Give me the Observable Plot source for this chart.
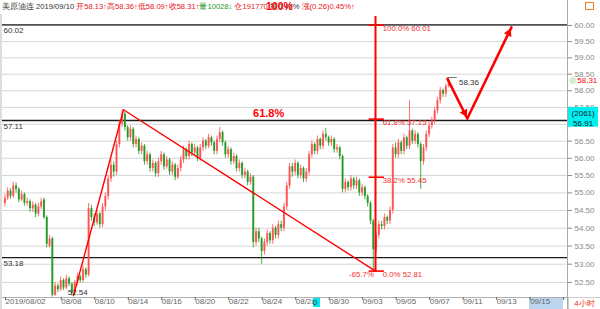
<!DOCTYPE html>
<html><head><meta charset="utf-8">
<script src="https://cdn.jsdelivr.net/npm/d3@7"></script>
<script src="https://cdn.jsdelivr.net/npm/@observablehq/plot@0.6"></script>
<style>
body{margin:0;background:#fff;}
#wrap{position:relative;width:600px;height:309px;overflow:hidden;font-family:"Liberation Sans",Arial,sans-serif;background:#fff;}
#hdr{position:relative;height:14px;font-size:7.6px;line-height:13px;white-space:nowrap;padding-left:2px;color:#333;}
.r{color:#e8141c}.g{color:#1a9a1a}
#big100{position:absolute;left:266px;top:0px;font-size:10.5px;font-weight:bold;color:#f00;line-height:13px;}
#vborder{position:absolute;left:567px;top:0;width:1px;height:309px;background:#aaa;}
#lborder{position:absolute;left:0;top:14px;width:2px;height:295px;background:#ddd;}
#icon{position:absolute;left:585px;top:2px;width:7px;height:6px;border:1px solid #f08020;}
#sel{position:absolute;left:529px;top:298px;width:34px;height:11px;background:#bcd6f2;}
#cur{position:absolute;left:313px;top:298px;width:7px;height:9px;background:#00e5f0;font-size:7.5px;line-height:9px;color:#333;}
#tf{position:absolute;left:568px;top:297px;width:31px;height:11px;border:1px solid #ccc;font-size:8px;line-height:11px;color:#f03010;text-align:center;}
#plot{position:absolute;left:0;top:14px;}
</style></head>
<body><div id="wrap">
<div id="sel"></div>
<div id="hdr">美原油连 2019/09/10 <span class="r">开58.13↑高58.36↑低58.09↑收58.31↑</span><span class="g">量10028↓</span> <span class="r">仓191770</span> 振0.47% <span class="r">涨(0.26)0.45%↑</span></div>
<div id="plot"></div>
<div id="big100">100%</div>
<div id="lborder"></div>
<div id="vborder"></div>
<div id="icon"></div>
<div id="cur">0</div>
<div id="tf">4小时</div>
</div>
<script>
// ---- data (4-hour bars, index 0..159) ----
const open = [
54.70,54.85,55.05,54.90,55.20,55.10,54.80,54.95,54.70,54.75,
54.55,54.65,54.40,54.60,54.80,54.30,53.50,53.70,52.15,52.40,
52.30,52.55,52.35,52.60,52.45,52.20,52.50,52.65,52.55,52.85,
52.70,54.55,54.30,54.15,54.40,54.10,54.60,54.90,55.40,55.80,
55.60,56.40,57.00,57.30,56.90,56.60,56.85,56.40,56.55,56.20,
56.35,55.90,56.10,55.70,55.85,55.55,55.90,56.10,55.75,55.95,
55.60,55.80,55.45,55.70,55.95,56.25,56.05,56.40,56.15,56.30,
56.00,56.30,56.50,56.35,56.60,56.45,56.20,56.55,56.75,56.45,
56.10,56.25,55.90,56.05,55.70,55.85,55.50,55.60,55.30,55.45,
53.60,53.90,53.70,53.35,53.60,53.85,53.65,54.00,53.80,54.10,
54.00,54.60,55.20,55.75,55.60,55.85,55.50,55.70,55.40,55.60,
56.10,56.40,56.20,56.55,56.35,56.70,56.60,56.45,56.55,56.25,
56.30,56.05,55.10,55.30,55.15,55.40,55.20,55.35,55.00,55.15,
54.90,54.70,54.20,53.40,53.80,54.10,54.05,54.30,54.20,54.50,
56.30,56.10,56.45,56.20,56.60,56.35,56.80,56.50,56.70,56.40,
55.90,56.30,56.70,56.95,57.10,57.40,57.70,58.00,57.90,58.13];
const high = [
54.95,55.15,55.12,55.30,55.28,55.15,55.05,55.00,54.85,54.80,
54.75,54.70,54.70,54.85,54.85,54.35,53.80,53.75,52.50,52.45,
52.65,52.60,52.70,52.65,52.50,52.55,52.75,52.70,52.95,52.90,
54.70,54.65,54.40,54.50,54.45,54.70,55.00,55.50,55.95,55.90,
56.50,57.10,57.43,57.35,56.95,56.95,56.90,56.65,56.60,56.45,
56.40,56.20,56.15,55.95,55.90,56.00,56.20,56.15,56.05,56.00,
55.90,55.85,55.80,56.05,56.35,56.30,56.50,56.45,56.40,56.35,
56.40,56.60,56.55,56.70,56.65,56.50,56.65,56.90,56.80,56.50,
56.35,56.30,56.15,56.10,55.95,55.90,55.70,55.65,55.55,55.50,
54.00,54.00,53.75,53.70,53.95,53.90,54.10,54.05,54.20,54.20,
54.70,55.30,55.85,55.85,55.95,55.90,55.80,55.75,55.70,56.20,
56.50,56.45,56.65,56.60,56.80,56.88,56.65,56.65,56.60,56.40,
56.35,56.10,55.40,55.35,55.50,55.45,55.45,55.40,55.25,55.20,
54.95,54.75,54.25,53.90,54.20,54.20,54.40,54.35,54.60,56.40,
56.45,56.55,56.50,56.70,56.65,57.70,56.85,56.80,56.75,56.45,
56.40,56.80,57.05,57.20,57.50,57.80,58.10,58.05,58.20,58.36];
const low = [
54.60,54.78,54.82,54.85,55.00,54.72,54.75,54.62,54.62,54.45,
54.45,54.30,54.32,54.52,54.25,53.45,53.45,52.10,52.12,52.22,
52.25,52.28,52.30,52.38,52.13,52.15,52.42,52.48,52.50,52.62,
52.65,54.20,54.05,54.08,54.00,54.02,54.50,54.80,55.30,55.45,
55.50,56.30,56.90,56.80,56.50,56.50,56.30,56.30,56.10,56.10,
55.80,55.80,55.60,55.60,55.45,55.45,55.80,55.65,55.68,55.50,
55.50,55.35,55.38,55.60,55.85,55.95,55.95,56.05,56.05,55.90,
55.92,56.20,56.25,56.28,56.35,56.10,56.10,56.45,56.35,56.00,
56.00,55.80,55.82,55.60,55.60,55.40,55.40,55.20,55.22,53.45,
53.50,53.60,53.00,53.25,53.50,53.55,53.55,53.70,53.70,53.90,
53.90,54.50,55.10,55.45,55.50,55.40,55.40,55.30,55.30,55.50,
56.00,56.10,56.10,56.25,56.25,56.50,56.35,56.35,56.15,56.15,
55.95,55.00,55.00,55.05,55.05,55.10,55.10,54.90,54.90,54.80,
54.60,54.10,52.81,53.30,53.70,53.95,53.95,54.10,54.10,54.40,
56.00,56.00,56.10,56.10,56.25,56.25,56.40,56.40,56.30,55.10,
55.80,56.20,56.60,56.85,57.00,57.30,57.60,57.80,57.80,58.09];
const close = [
54.85,55.05,54.90,55.20,55.10,54.80,54.95,54.70,54.75,54.55,
54.65,54.40,54.60,54.75,54.30,53.55,53.70,52.15,52.40,52.30,
52.55,52.35,52.60,52.45,52.20,52.50,52.65,52.55,52.85,52.70,
54.55,54.30,54.15,54.40,54.10,54.60,54.90,55.40,55.80,55.60,
56.40,57.00,57.30,56.90,56.60,56.85,56.40,56.55,56.20,56.35,
55.90,56.10,55.70,55.85,55.55,55.90,56.10,55.75,55.95,55.60,
55.80,55.45,55.70,55.95,56.25,56.05,56.40,56.15,56.30,56.00,
56.30,56.50,56.35,56.60,56.45,56.20,56.55,56.75,56.45,56.10,
56.25,55.90,56.05,55.70,55.85,55.50,55.60,55.30,55.45,53.60,
53.90,53.70,53.35,53.60,53.85,53.65,54.00,53.80,54.10,54.00,
54.60,55.20,55.75,55.60,55.85,55.50,55.70,55.40,55.60,56.10,
56.40,56.20,56.55,56.35,56.70,56.60,56.45,56.55,56.25,56.30,
56.05,55.10,55.30,55.15,55.40,55.20,55.35,55.00,55.15,54.90,
54.70,54.20,53.40,53.80,54.10,54.05,54.30,54.20,54.50,56.30,
56.10,56.45,56.20,56.60,56.35,56.80,56.50,56.70,56.40,55.90,
56.30,56.70,56.95,57.10,57.40,57.70,58.00,57.90,58.13,58.31];

const xTickSlots = [0,20,32,44,56,68,80,92,104,116,128,140,152,164,176,188,200];
const xTickLabels = ["2019/08/02","08/08","08/10","08/14","08/16","08/20","08/22","08/24","08/28","08/30","09/03","09/05","09/07","09/11","09/13","09/15",""];
const yTicks = [52.5,53,53.5,54,54.5,55,55.5,56,56.5,57,57.5,58,58.5,59,59.5,60];
const levelValues = [60.02, 57.11, 53.18];
const zigzagX = [25.1, 43.0, 133.3];
const zigzagY = [52.14, 57.43, 52.81];
const fibPct = ["100.0%","61.8%","38.2%","0.0%"];
const fibValues = [60.01, 57.15, 55.45, 52.81];
const fibSlot = 133.3;
const fibTop = 60.30;
const arrowX = [159.1, 166.2, 182.0];
const arrowY = [58.36, 57.17, 59.94];
const arrowHeadX = [165.2, 181.03];
const arrowHeadY = [57.34, 59.77];
const arrowHeadAngle = [153.5, 25.8];
const lastClose = 58.31, cursorPrice = 56.91, cursorVol = "(2061)";

// ---- build tables ----
const bars = close.map((c, i) => ({x: i + 0.5, o: open[i], h: high[i], l: low[i], c, col: c >= open[i] ? "#ff4a4a" : "#1a961a"}));
const tickLabel = new Map(xTickSlots.map((s, i) => [s, xTickLabels[i]]));
const zig = zigzagX.map((x, i) => ({x, y: zigzagY[i]}));
const fib = fibValues.map((v, i) => ({v, label: fibPct[i] + " " + v.toFixed(2)}));
const fibStem = [{x1: fibSlot, x2: fibSlot, y1: fibValues[3], y2: fibTop}];
const arrows = [0, 1].map(i => ({x1: arrowX[i], y1: arrowY[i], x2: arrowX[i + 1], y2: arrowY[i + 1]}));
const heads = arrowHeadX.map((x, i) => ({x, y: arrowHeadY[i], a: arrowHeadAngle[i]}));
const XMIN = -1.075, XMAX = 202.1;

const chart = Plot.plot({
  width: 600, height: 295,
  marginTop: 0, marginBottom: 12, marginLeft: 0, marginRight: 33,
  style: {fontFamily: "'Liberation Sans', Arial, sans-serif", background: "transparent", overflow: "visible"},
  x: {type: "linear", domain: [XMIN, XMAX]},
  y: {type: "log", domain: [52.09, 60.344]},
  marks: [
    Plot.ruleY(yTicks, {stroke: "#d6d6d6", strokeWidth: 1}),
    Plot.ruleY([52.09], {stroke: "#b0b0b0"}),
    Plot.ruleY(levelValues, {stroke: "#1a1a1a", strokeWidth: 1.4}),
    Plot.text(levelValues, {x: XMIN, y: d => d, text: d => d.toFixed(2), dx: 3, dy: 5.5, textAnchor: "start", fontSize: 8, fill: "#333"}),
    Plot.ruleX(bars, {x: "x", y1: "l", y2: "h", stroke: "col", strokeWidth: 1, strokeOpacity: 0.8}),
    Plot.ruleX(bars, {x: "x", y1: "o", y2: "c", stroke: "col", strokeWidth: 2, strokeOpacity: 0.85}),
    Plot.line(zig, {x: "x", y: "y", stroke: "#f00", strokeWidth: 1.4}),
    Plot.link(fibStem, {x1: "x1", y1: "y1", x2: "x2", y2: "y2", stroke: "#ff0000", strokeWidth: 2}),
    Plot.ruleY(fibValues, {x1: fibSlot - 2.3, x2: fibSlot + 3.2, stroke: "#f00", strokeWidth: 1.6}),
    Plot.text(fib, {x: fibSlot + 2.6, y: "v", text: "label", dy: 3.5, textAnchor: "start", fontSize: 7.8, fill: "#f03030"}),
    Plot.text(["-65.7%"], {x: fibSlot - 0.6, y: 52.81, text: d => d, dy: 3, textAnchor: "end", fontSize: 7.8, fill: "#f03030"}),
    Plot.text(["61.8%"], {x: 95, y: 57.33, text: d => d, fontSize: 11, fontWeight: "bold", fill: "#f00"}),
    Plot.text(["52.54"], {x: 23, y: 52.22, text: d => d, textAnchor: "start", fontSize: 8, fill: "#333"}),
    Plot.ruleY([58.40], {x1: 159.3, x2: 162.6, stroke: "#777"}),
    Plot.text(["58.36"], {x: 163.2, y: 58.24, text: d => d, textAnchor: "start", fontSize: 8, fill: "#333"}),
    Plot.arrow(arrows, {x1: "x1", y1: "y1", x2: "x2", y2: "y2", stroke: "#f00", strokeWidth: 2.6, headLength: 0}),
    Plot.dot(heads, {x: "x", y: "y", rotate: "a", symbol: "triangle2", r: 4, fill: "#f00", stroke: "none"}),
    Plot.axisY({anchor: "right", ticks: yTicks, tickFormat: d => d.toFixed(2), tickSize: 4, tickPadding: 3, fontSize: 8, color: "#8a8a8a"}),
    Plot.axisX({anchor: "bottom", ticks: xTickSlots, tickFormat: d => tickLabel.get(d), tickSize: 3, tickPadding: -2, textAnchor: "start", dx: 2, fontSize: 8, color: "#666"}),
    Plot.dot([lastClose], {x: 204.0, y: d => d, r: 3.5, fill: "#d3efd3"}),
    Plot.text([lastClose], {x: 205.6, y: d => d, text: d => d.toFixed(2), textAnchor: "start", fontSize: 8, fill: "#f00"}),
    Plot.rect([cursorPrice], {x1: XMAX, x2: 213.2, y1: d => d, y2: 57.50, fill: "#00f0f0"}),
    Plot.text([cursorVol], {x: 207.7, y: 57.33, text: d => d, fontSize: 8, fill: "#123"}),
    Plot.text([cursorPrice], {x: 207.7, y: 57.03, text: d => d.toFixed(2), fontSize: 8, fill: "#123"})
  ]
});
document.getElementById("plot").appendChild(chart);
</script>
</body></html>
